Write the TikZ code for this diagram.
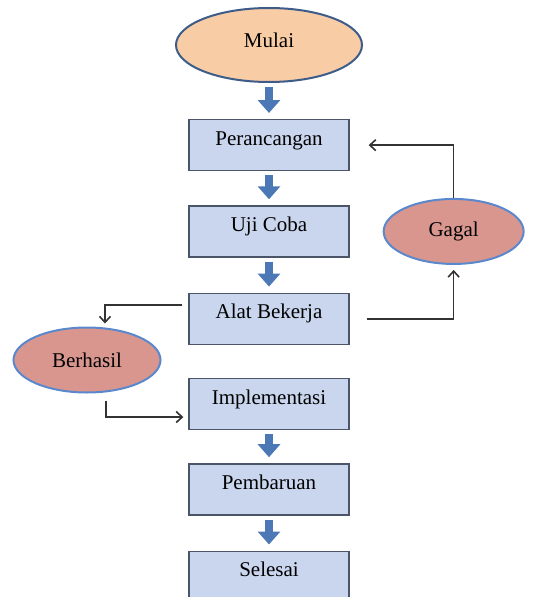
\documentclass[tikz,border=0pt]{standalone}
\usepackage{fontspec}
\setmainfont{Liberation Serif}
\usepackage{xcolor}
\usetikzlibrary{positioning, shapes, arrows.meta}

\definecolor{boxfill}{HTML}{C9D6EE}
\definecolor{boxline}{HTML}{4A5568}
\definecolor{startfill}{HTML}{F8CDA6}
\definecolor{startline}{HTML}{3D5C8A}
\definecolor{resfill}{HTML}{D8968F}
\definecolor{resline}{HTML}{5B88CC}
\definecolor{fatblue}{HTML}{4C78B6}

\begin{document}
\begin{tikzpicture}[x=1pt, y=1pt, node distance=34pt,
  font=\fontsize{21}{24}\selectfont,
  box/.style={draw=boxline, line width=1.3pt, fill=boxfill, rectangle,
    minimum width=160pt, minimum height=51pt, text height=14pt, text depth=14pt},
  start/.style={draw=startline, line width=2pt, fill=startfill, ellipse,
    minimum width=186pt, minimum height=74pt, text height=14pt, text depth=10pt},
  result/.style={draw=resline, line width=2pt, fill=resfill, ellipse, minimum height=65pt},
  fat/.style={fatblue, line width=8pt, -{Triangle[width=22pt,length=13pt]},
    shorten <=4pt, shorten >=6pt},
  line/.style={draw=black!80, line width=1.6pt, -{Straight Barb[length=6pt,width=11pt]}}]
  \useasboundingbox (0,0) rectangle (533,-597);

  \node (mulai) [start] at (269,-45) {Mulai};
  \node (perancangan) [box, below=36pt of mulai] {Perancangan};
  \node (ujicoba) [box, below=34pt of perancangan] {Uji Coba};
  \node (alat) [box, below=35pt of ujicoba] {Alat Bekerja};
  \node (impl) [box, below=33pt of alat] {Implementasi};
  \node (pembaruan) [box, below=33pt of impl] {Pembaruan};
  \node (selesai) [box, below=35pt of pembaruan] {Selesai};

  \node (gagal) [result, minimum width=140pt, right=33pt of ujicoba] {Gagal};
  \node (berhasil) [result, minimum width=147pt] at (87,-360) {Berhasil};

  % fat arrows down the main column
  \draw [fat] (mulai.south) -- (perancangan.north);
  \draw [fat] (perancangan) -- (ujicoba);
  \draw [fat] (ujicoba) -- (alat);
  \draw [fat] (impl) -- (pembaruan);
  \draw [fat] (pembaruan) -- (selesai);

  % branches
  \draw [line] ([xshift=17pt]alat.east) -| ([yshift=-5pt]gagal.south);
  \draw [line] (gagal.north) |- ([xshift=19pt]perancangan.east);
  \draw [line] ([xshift=-6pt,yshift=14pt]alat.west) -| ([xshift=18pt,yshift=3pt]berhasil.north);
  \draw [line] ([xshift=19pt,yshift=-7pt]berhasil.south) |- ([xshift=-5pt,yshift=-13pt]impl.west);
\end{tikzpicture}
\end{document}
